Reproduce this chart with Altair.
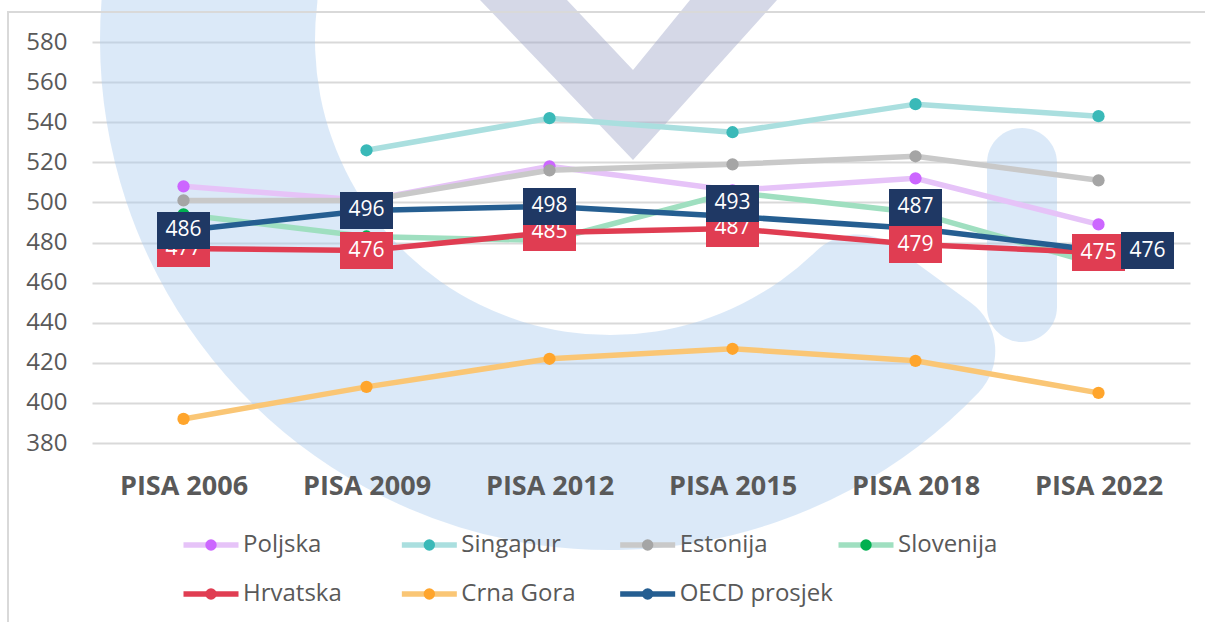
import altair as alt
import pandas as pd

# ---- data ----
tests = ["PISA 2006", "PISA 2009", "PISA 2012", "PISA 2015", "PISA 2018", "PISA 2022"]
series = ["Poljska", "Singapur", "Estonija", "Slovenija", "Hrvatska", "Crna Gora", "OECD prosjek"]
poljska = [508, 501, 518, 506, 512, 489]
singapur = [None, 526, 542, 535, 549, 543]
estonija = [501, 501, 516, 519, 523, 511]
slovenija = [494, 483, 481, 505, 495, 469]
hrvatska = [477, 476, 485, 487, 479, 475]
crna_gora = [392, 408, 422, 427, 421, 405]
oecd = [486, 496, 498, 493, 487, 476]
y_ticks = [380, 400, 420, 440, 460, 480, 500, 520, 540, 560, 580]

# label nudges (pixels) for the OECD data labels, as placed in the original
oecd_label_dx = [0, 0, 0, 0, 0, 49]
oecd_label_dy = [0, 0, 0, -13, -21, 0]

line_colors = ["#E6C3F8", "#AADFDF", "#C9C9C9", "#9FDFC0", "#E03D52", "#FAC675", "#255E91"]
marker_colors = ["#CC66FF", "#3AB9B8", "#A5A5A5", "#00B050", "#E03D52", "#FFA52C", "#255E91"]
legend_col = [0, 1, 2, 3, 0, 1, 2]
legend_row = [0, 0, 0, 0, 1, 1, 1]

values = [poljska, singapur, estonija, slovenija, hrvatska, crna_gora, oecd]

rows = []
for name, vals in zip(series, values):
    for t, v in zip(tests, vals):
        if v is not None:
            rows.append({"series": name, "test": t, "value": v})
df = pd.DataFrame(rows)

FONT = "Open Sans"
TXT = "#595959"

X = alt.X("test:N", sort=tests,
          scale=alt.Scale(type="point", padding=0.5, domain=tests),
          axis=alt.Axis(title=None, labelAngle=0, labelFontSize=27, labelFontWeight="bold",
                        labelPadding=30, grid=False, zindex=1))
Y = alt.Y("value:Q", scale=alt.Scale(domain=[380, 580], nice=False, zero=False),
          axis=alt.Axis(title=None, values=y_ticks, labelFontSize=24, labelPadding=25,
                        grid=True, gridColor="#D9D9D9", gridWidth=2))

one = alt.Data(values=[{"k": 1}])

# ---- background watermark (decorative) ----
WM = "#A9CBEE"
ring = alt.Chart(one).mark_arc(
    theta=2.2, theta2=5.0, innerRadius=295, outerRadius=510, cornerRadius=60,
    color=WM, opacity=0.42
).encode(x=alt.value(518), y=alt.value(-2))
finger = alt.Chart(one).mark_rect(
    color=WM, opacity=0.42, cornerRadius=35
).encode(x=alt.value(895), x2=alt.value(965), y=alt.value(86), y2=alt.value(300))
vee = alt.Chart(one).mark_point(
    shape="M-153,0L-66,0L0,70L57,0L144,0L0,160Z", size=4, filled=True,
    color="#9AA3C6", opacity=0.42, strokeWidth=0
).encode(x=alt.value(541), y=alt.value(-42))
border = alt.Chart(one).mark_rect(
    fillOpacity=0, stroke="#D9D9D9", strokeWidth=2
).encode(x=alt.value(-84), x2=alt.value(1200), y=alt.value(-30), y2=alt.value(650))

layers = [ring, finger, vee, border]

# ---- series lines and markers ----
for name, lc, mc in zip(series, line_colors, marker_colors):
    base = alt.Chart(df).transform_filter(alt.datum.series == name).encode(x=X, y=Y)
    layers.append(base.mark_line(color=lc, strokeWidth=5.5))
    layers.append(base.mark_circle(color=mc, size=150, opacity=1))


def box_path(dx, dy, w=53, h=37):
    l, r = dx - w / 2, dx + w / 2
    t, b = dy - h / 2, dy + h / 2
    return f"M{l},{t}L{r},{t}L{r},{b}L{l},{b}Z"


# ---- data labels: Hrvatska (centred on points) ----
hr = alt.Chart(df).transform_filter(alt.datum.series == "Hrvatska").encode(x=X, y=Y)
layers.append(hr.mark_point(shape=box_path(0, 0), size=4, filled=True, color="#E03D52",
                            opacity=1, strokeWidth=0))
layers.append(hr.mark_text(color="white", fontSize=21, font=FONT, baseline="middle", align="center")
              .encode(text="value:Q"))

# ---- data labels: OECD prosjek (drawn on top, some nudged) ----
for t, ddx, ddy in zip(tests, oecd_label_dx, oecd_label_dy):
    oe = alt.Chart(df).transform_filter(
        (alt.datum.series == "OECD prosjek") & (alt.datum.test == t)).encode(x=X, y=Y)
    layers.append(oe.mark_point(shape=box_path(ddx, ddy), size=4, filled=True, color="#1F3864",
                                opacity=1, strokeWidth=0))
    layers.append(oe.mark_text(color="white", fontSize=21, font=FONT, baseline="middle",
                               align="center", dx=ddx, dy=ddy).encode(text="value:Q"))

main = alt.layer(*layers)

# ---- custom legend ----
leg_df = pd.DataFrame({"name": series, "lc": line_colors, "mc": marker_colors,
                       "col": legend_col, "row": legend_row})
LX = alt.X("col:Q", scale=alt.Scale(domain=[0, 3], range=[119, 774]), axis=None)
LY = alt.Y("row:Q", scale=alt.Scale(domain=[0, 1], range=[503, 552]), axis=None)
lbase = alt.Chart(leg_df).encode(x=LX, y=LY)
leg = alt.layer(
    lbase.mark_point(shape="M-27.5,-2.75L27.5,-2.75L27.5,2.75L-27.5,2.75Z", size=4, filled=True,
                     opacity=1, strokeWidth=0).encode(color=alt.Color("lc:N", scale=None)),
    lbase.mark_circle(size=130, opacity=1).encode(color=alt.Color("mc:N", scale=None)),
    lbase.mark_text(align="left", baseline="middle", dx=32, fontSize=24, font=FONT, color=TXT)
    .encode(text="name:N"),
)

chart = alt.layer(main, leg).resolve_scale(
    x="independent", y="independent", color="independent"
).properties(
    width=1098, height=401,
    padding={"left": 92, "top": 42, "right": 15, "bottom": 179},
    autosize=alt.AutoSizeParams(type="none"),
    background="white",
).configure_view(stroke=None).configure_axis(
    labelFont=FONT, labelColor=TXT, domain=False, ticks=False, tickSize=0
)

chart.save("out.html", embed_options={"renderer": "svg", "actions": False})
